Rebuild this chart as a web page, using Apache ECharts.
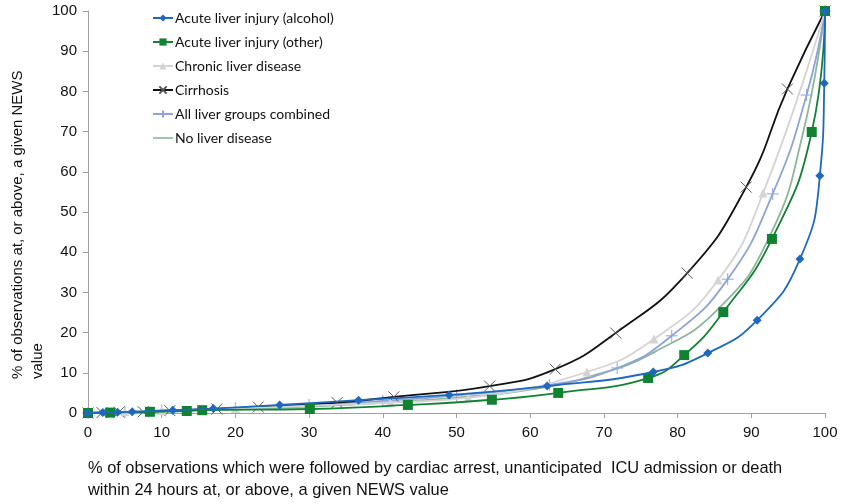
<!DOCTYPE html>
<html>
<head>
<meta charset="utf-8">
<script src="https://cdn.jsdelivr.net/npm/echarts@6/dist/echarts.min.js"></script>
<style>html,body{margin:0;padding:0;background:#fff}#c{width:841px;height:504px}</style>
</head>
<body>
<div id="c"></div>
<script>
var seriesNames = ['Acute liver injury (alcohol)','Acute liver injury (other)','Chronic liver disease','Cirrhosis','All liver groups combined','No liver disease'];
var alcohol = [[0,0],[2,0.1],[4,0.2],[6,0.3],[11.5,0.7],[17,1.1],[26,2.0],[36.7,3.2],[49,4.5],[62.3,6.7],[76.7,10.2],[84.1,14.9],[90.8,23.1],[96.6,38.3],[99.3,59],[99.9,82],[100,100]];
var other = [[0,0],[3,0.1],[8.4,0.3],[13.4,0.5],[15.5,0.7],[30.1,1.0],[43.4,2.0],[54.8,3.3],[63.8,5.0],[76.0,8.7],[80.9,14.4],[86.2,25.1],[92.8,43.3],[98.2,69.9],[100,100]];
var chronic = [[0,0],[5,0.3],[10,0.6],[20,1.1],[30,1.8],[41,2.6],[51.6,3.8],[67.7,10.2],[76.8,18.4],[85.5,33.1],[91.6,54.7],[100,100]];
var cirrhosis = [[0,0],[1.9,0.1],[4.2,0.2],[7.5,0.3],[11.1,0.6],[17.5,1.0],[23.1,1.5],[33.8,2.6],[41.5,4.0],[54.5,6.7],[63.4,10.9],[71.6,19.9],[81.3,34.8],[89.3,56.2],[94.9,80.6],[100,100]];
var allLiver = [[0,0],[5,0.3],[10,0.6],[20,1.2],[30,2.0],[40,3.0],[50,4.4],[62.6,7.0],[71.8,11.2],[79.2,19.2],[86.8,33.3],[92.9,54.5],[97.5,79.1],[100,100]];
var noLiver = [[0,0],[10,0.5],[20,1.0],[30,1.6],[40,2.5],[50,3.8],[60,5.8],[68,9.0],[76.9,15.2],[85.8,26.4],[92.5,44],[96.9,68.7],[100,100]];
var xTicks = [0,10,20,30,40,50,60,70,80,90,100];
var yTicks = [0,10,20,30,40,50,60,70,80,90,100];

var colors = ['#1f68bf','#118232','#d4d4d4','#111111','#8ea4d8','#8db69b'];
var symbols = ['diamond','rect','triangle','path://M0,0L10,10M10,0L0,10','path://M5,0L5,10M0,5L10,5','none'];
var symbolSizes = [9,10,9,11,12,0];
var datas = [alcohol, other, chronic, cirrhosis, allLiver, noLiver];

var series = datas.map(function(d,i){
  return {
    name: seriesNames[i], type:'line', data:d, smooth:0.5,
    symbol: symbols[i], symbolSize: symbolSizes[i], showSymbol: i!==5,
    lineStyle:{color:colors[i], width:1.8},
    itemStyle:{color:colors[i], borderColor: i===3 ? '#555' : colors[i], borderWidth: (i===3||i===4)?1:0},
    z: 10 - i
  };
});

var legendData = seriesNames.map(function(n,i){
  return i===5 ? {name:n, icon:'path://M0,0L1,0L1,0.08L0,0.08Z', itemStyle:{color:colors[5]}} : {name:n};
});

var chart = echarts.init(document.getElementById('c'), null, {renderer:'canvas'});
chart.setOption({
  animation:false,
  grid:{left:88,right:16,top:11,bottom:91},
  xAxis:{type:'value',min:0,max:100,interval:10,
    axisLine:{lineStyle:{color:'#a0a0a0'}},
    axisTick:{show:true,length:5,lineStyle:{color:'#a0a0a0'}},
    axisLabel:{color:'#111',fontFamily:'Liberation Sans, Arial',fontSize:15,margin:12,
      formatter:function(v){return xTicks.indexOf(v)>=0?String(v):'';}},
    splitLine:{show:false}},
  yAxis:{type:'value',min:0,max:100,interval:10,
    axisLine:{show:true,lineStyle:{color:'#a0a0a0'}},
    axisTick:{show:true,length:5,lineStyle:{color:'#a0a0a0'}},
    axisLabel:{color:'#111',fontFamily:'Liberation Sans, Arial',fontSize:15,margin:11,
      formatter:function(v){return yTicks.indexOf(v)>=0?String(v):'';}},
    splitLine:{show:false}},
  legend:{orient:'vertical',left:147,top:6,itemGap:10,itemWidth:20,itemHeight:9,
    data:legendData,
    textStyle:{fontFamily:'Lato',fontSize:14,color:'#111',padding:[0,0,0,-3]}},
  graphic:[
    {type:'text',left:88,top:457,style:{text:'% of observations which were followed by cardiac arrest, unanticipated  ICU admission or death\nwithin 24 hours at, or above, a given NEWS value',fontFamily:'Liberation Sans, Arial',fontSize:16.4,lineHeight:22,fill:'#111'}},
    {type:'text',x:8,y:379,rotation:Math.PI/2,style:{text:'% of observations at, or above, a given NEWS\nvalue',fontFamily:'Liberation Sans, Arial',fontSize:15,lineHeight:20,fill:'#111',align:'left',verticalAlign:'top'}}
  ],
  series:series
});
</script>
</body>
</html>
